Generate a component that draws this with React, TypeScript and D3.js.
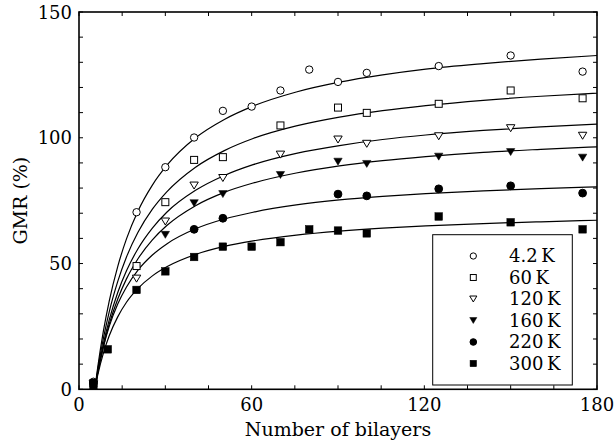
import React from "react";
import * as d3 from "d3";

// ---- data ----
const seriesLabels = ["4.2\u2009K", "60\u2009K", "120\u2009K", "160\u2009K", "220\u2009K", "300\u2009K"];
const seriesMarkers = ["circleOpen", "squareOpen", "triDownOpen", "triDownFilled", "circleFilled", "squareFilled"];

const x4K = [5, 20, 30, 40, 50, 60, 70, 80, 90, 100, 125, 150, 175];
const y4K = [3, 70.4, 88.3, 100.1, 110.7, 112.4, 118.8, 127.1, 122.2, 125.8, 128.5, 132.7, 126.3];

const x60K = [5, 20, 30, 40, 50, 70, 90, 100, 125, 150, 175];
const y60K = [2.5, 49, 74.4, 91.2, 92.3, 104.9, 112, 109.9, 113.5, 118.8, 115.7];

const x120K = [5, 20, 30, 40, 50, 70, 90, 100, 125, 150, 175];
const y120K = [2, 44, 66.7, 81, 84, 93.3, 99.3, 97.6, 100.6, 103.8, 100.8];

const x160K = [5, 30, 40, 50, 70, 90, 100, 125, 150, 175];
const y160K = [2, 61.4, 74, 77.6, 85.2, 90.5, 89.6, 92.5, 94.3, 92.1];

const x220K = [5, 40, 50, 90, 100, 125, 150, 175];
const y220K = [2.5, 63.6, 68, 77.6, 76.9, 79.7, 80.9, 78];

const x300K = [5, 10, 20, 30, 40, 50, 60, 70, 80, 90, 100, 125, 150, 175];
const y300K = [1.5, 15.9, 39.5, 46.9, 52.6, 56.7, 56.7, 58.5, 63.6, 63.1, 62, 68.7, 66.4, 63.6];

// fitted curves
const fitX = [5.5, 6.5, 8.5, 10.5, 13.5, 16.5, 20.5, 25.5, 30.5, 40.5, 50.5, 60.5, 75.5, 90.5, 105.5, 120.5, 140.5, 160.5, 180];
const fit4K = [0, 8.7, 23.3, 35.1, 49.0, 59.8, 70.9, 81.2, 89.0, 100.0, 107.3, 112.6, 118.2, 122.1, 125.0, 127.3, 129.5, 131.3, 132.7];
const fit60K = [0, 7.6, 20.4, 30.8, 43.0, 52.6, 62.4, 71.6, 78.5, 88.3, 94.9, 99.7, 104.7, 108.2, 110.8, 112.8, 114.9, 116.5, 117.7];
const fit120K = [0, 6.8, 18.3, 27.6, 38.6, 47.1, 55.9, 64.1, 70.4, 79.1, 85.0, 89.3, 93.8, 96.9, 99.3, 101.1, 102.9, 104.3, 105.4];
const fit160K = [0, 6.4, 17.2, 25.9, 36.0, 43.9, 51.9, 59.4, 65.1, 73.0, 78.3, 82.0, 86.0, 88.8, 90.9, 92.5, 94.2, 95.4, 96.4];
const fit220K = [0, 6.5, 16.9, 25.0, 34.0, 40.7, 47.4, 53.4, 57.8, 63.8, 67.7, 70.4, 73.3, 75.3, 76.7, 77.8, 78.9, 79.8, 80.5];
const fit300K = [0, 5.6, 14.5, 21.3, 28.9, 34.6, 40.1, 45.1, 48.7, 53.6, 56.8, 59.0, 61.3, 62.9, 64.1, 65.0, 65.9, 66.6, 67.2];

const xTickLabels = [0, 60, 120, 180];
const yTickLabels = [0, 50, 100, 150];
const xMinorStep = 15;
const yMinorStep = 10;

const xTitle = "Number of bilayers";
const yTitle = "GMR (%)";

const seriesX = [x4K, x60K, x120K, x160K, x220K, x300K];
const seriesY = [y4K, y60K, y120K, y160K, y220K, y300K];
const fitY = [fit4K, fit60K, fit120K, fit160K, fit220K, fit300K];

// ---- layout ----
const W = 616;
const H = 446;
const L = 79;
const R = 597;
const T = 12;
const B = 389.3;
const FONT = "'DejaVu Serif', serif";

function Marker({ kind, cx, cy, s = 1 }: { kind: string; cx: number; cy: number; s?: number }) {
  const open = kind.endsWith("Open");
  const fill = open ? "#fff" : "#000";
  const sw = 1;
  if (kind.startsWith("circle")) {
    return <circle cx={cx} cy={cy} r={(open ? 3.7 : 3.9) * s} fill={fill} stroke="#000" strokeWidth={sw} />;
  }
  if (kind.startsWith("square")) {
    const a = (open ? 7 : 7.6) * s;
    return <rect x={cx - a / 2} y={cy - a / 2} width={a} height={a} fill={fill} stroke="#000" strokeWidth={open ? sw : 0.5} />;
  }
  const w = 8.4 * s;
  const h = 7 * s;
  const p = `M${cx - w / 2},${cy - h / 2}L${cx + w / 2},${cy - h / 2}L${cx},${cy + h / 2}Z`;
  return <path d={p} fill={fill} stroke="#000" strokeWidth={open ? sw : 0.5} strokeLinejoin="miter" />;
}

export default function App() {
  const x = d3.scaleLinear().domain([0, 180]).range([L, R]);
  const y = d3.scaleLinear().domain([0, 150]).range([B, T]);
  const line = d3
    .line<[number, number]>()
    .x((d) => x(d[0]))
    .y((d) => y(d[1]))
    .curve(d3.curveMonotoneX);

  const xMinor = d3.range(0, 180 + 0.001, xMinorStep);
  const yMinor = d3.range(0, 150 + 0.001, yMinorStep);
  const tl = 4;

  const legX = 432.7;
  const legY = 234.7;
  const legW = 139.6;
  const legH = 150.3;

  return (
    <svg width={W} height={H} style={{ position: "absolute", left: 0, top: 0, background: "#fff" }} fontFamily={FONT}>
      <rect x={0} y={0} width={W} height={H} fill="#fff" />
      <defs>
        <clipPath id="plotclip">
          <rect x={L} y={T} width={R - L} height={B - T} />
        </clipPath>
      </defs>

      {/* fitted curves */}
      <g clipPath="url(#plotclip)">
        {fitY.map((ys, i) => (
          <path
            key={"fit" + i}
            d={line(fitX.map((xv, j) => [xv, ys[j]] as [number, number])) || ""}
            fill="none"
            stroke="#000"
            strokeWidth={1.2}
          />
        ))}
      </g>

      {/* legend box */}
      <rect x={legX} y={legY} width={legW} height={legH} fill="#fff" stroke="#000" strokeWidth={1} />
      {seriesLabels.map((lab, i) => {
        const cy = 256 + i * 21.5;
        return (
          <g key={"leg" + i}>
            <Marker kind={seriesMarkers[i]} cx={473.3} cy={cy} s={0.85} />
            <text x={509} y={cy + 6.3} fontSize={18} fill="#000">
              {lab}
            </text>
          </g>
        );
      })}

      {/* data points */}
      {seriesX.map((xs, i) =>
        xs.map((xv, j) => (
          <Marker key={`p${i}-${j}`} kind={seriesMarkers[i]} cx={x(xv)} cy={y(seriesY[i][j])} />
        ))
      )}

      {/* ticks */}
      <g stroke="#000" strokeWidth={1}>
        {xMinor.map((v) => (
          <g key={"xt" + v}>
            <line x1={x(v)} x2={x(v)} y1={B} y2={B - tl} />
            <line x1={x(v)} x2={x(v)} y1={T} y2={T + tl} />
          </g>
        ))}
        {yMinor.map((v) => (
          <g key={"yt" + v}>
            <line x1={L} x2={L + tl} y1={y(v)} y2={y(v)} />
            <line x1={R} x2={R - tl} y1={y(v)} y2={y(v)} />
          </g>
        ))}
      </g>

      {/* frame */}
      <rect x={L} y={T} width={R - L} height={B - T} fill="none" stroke="#000" strokeWidth={1.6} />

      {/* tick labels */}
      {xTickLabels.map((v) => (
        <text key={"xl" + v} x={x(v)} y={411} fontSize={18} textAnchor="middle" fill="#000">
          {v}
        </text>
      ))}
      {yTickLabels.map((v) => (
        <text key={"yl" + v} x={72} y={y(v) + 6.5} fontSize={18} textAnchor="end" fill="#000">
          {v}
        </text>
      ))}

      {/* axis titles */}
      <text x={(L + R) / 2} y={436} fontSize={19} textAnchor="middle" fill="#000">
        {xTitle}
      </text>
      <text
        transform={`translate(27,${(T + B) / 2}) rotate(-90)`}
        fontSize={19}
        textAnchor="middle"
        fill="#000"
      >
        {yTitle}
      </text>
    </svg>
  );
}
